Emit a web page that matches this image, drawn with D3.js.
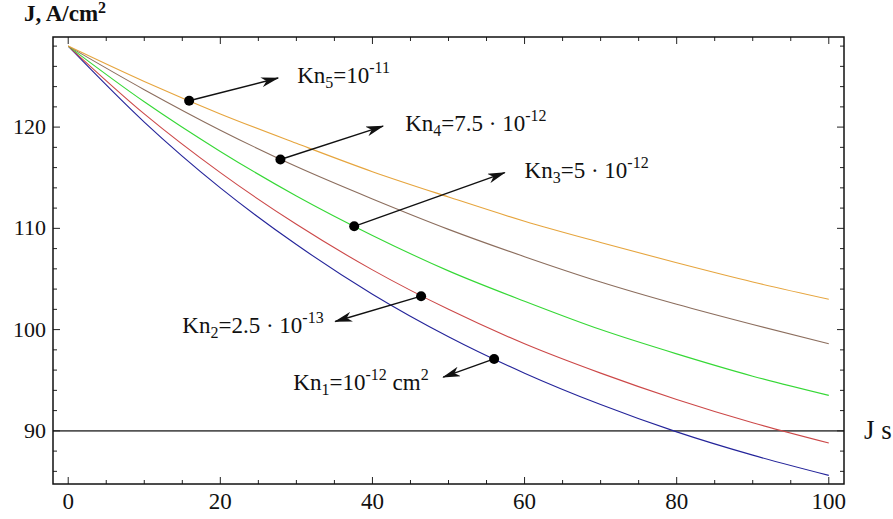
<!DOCTYPE html>
<html>
<head>
<meta charset="utf-8">
<script src="https://cdn.jsdelivr.net/npm/d3@7"></script>
<style>
  body { margin: 0; background: #fff; }
  text, tspan { font-family: "Liberation Serif", "Times New Roman", serif; }
</style>
</head>
<body>
<div id="chart"></div>
<script>
// x values of the samples
const xValues = [0, 10, 20, 30, 40, 50, 60, 70, 80, 90, 100];

// J values (A/cm2)
const kn1 = [128, 120.5, 114.0, 108.4, 103.5, 99.3, 95.7, 92.6, 89.9, 87.6, 85.6];
const kn2 = [128, 121.3, 115.5, 110.4, 105.9, 102.0, 98.6, 95.7, 93.1, 90.8, 88.8];
const kn3 = [128, 122.5, 117.6, 113.2, 109.3, 105.8, 102.8, 100.0, 97.6, 95.4, 93.5];
const kn4 = [128, 123.7, 119.7, 116.1, 112.9, 109.9, 107.2, 104.7, 102.5, 100.5, 98.6];
const kn5 = [128, 124.5, 121.3, 118.4, 115.6, 113.1, 110.7, 108.6, 106.6, 104.7, 103.0];

const seriesColors = ["#24249a", "#cc4848", "#36d836", "#8c6e5e", "#e6a53e"];

// saturation level
const jsLevel = 90;

// annotation: point on curve, arrow end, label position (all in data units)
const dotX = [56, 46.4, 37.6, 27.9, 15.9];
const dotY = [97.1, 103.3, 110.2, 116.8, 122.6];
const arrowX = [49.3, 35.1, 57.4, 41.4, 27.6];
const arrowY = [95.3, 100.8, 115.5, 120.1, 124.85];
const labelX = [29.6, 15.0, 60.0, 44.3, 30.1];
const labelY = [94.05, 99.7, 115.0, 119.6, 124.35];
const labelParts = [
  [["Kn", ""], ["1", "sub"], ["=10", ""], ["-12", "sup"], [" cm", ""], ["2", "sup"]],
  [["Kn", ""], ["2", "sub"], ["=2.5 \u00b7 10", ""], ["-13", "sup"]],
  [["Kn", ""], ["3", "sub"], ["=5 \u00b7 10", ""], ["-12", "sup"]],
  [["Kn", ""], ["4", "sub"], ["=7.5 \u00b7 10", ""], ["-12", "sup"]],
  [["Kn", ""], ["5", "sub"], ["=10", ""], ["-11", "sup"]]
];

const xTicks = [0, 20, 40, 60, 80, 100];
const yTicks = [90, 100, 110, 120];

const width = 893, height = 519;
const margin = { top: 37, right: 49, bottom: 35, left: 53 };
const serif = "Liberation Serif";

const svg = d3.select("#chart").append("svg")
  .attr("width", width)
  .attr("height", height);

const x = d3.scaleLinear().domain([-2, 102]).range([margin.left, width - margin.right]);
const y = d3.scaleLinear().domain([84.75, 128.9]).range([height - margin.bottom, margin.top]);

// arrow head
svg.append("defs").append("marker")
  .attr("id", "arrow")
  .attr("viewBox", "0 0 18 10")
  .attr("refX", 17)
  .attr("refY", 5)
  .attr("markerWidth", 18)
  .attr("markerHeight", 10)
  .attr("markerUnits", "userSpaceOnUse")
  .attr("orient", "auto")
  .append("path")
  .attr("d", "M0,0 L18,5 L0,10 L5,5 Z")
  .attr("fill", "#111");

// Js line
svg.append("line")
  .attr("x1", x.range()[0]).attr("x2", x.range()[1])
  .attr("y1", y(jsLevel)).attr("y2", y(jsLevel))
  .attr("stroke", "#555")
  .attr("stroke-width", 1.6);

// curves
const line = d3.line()
  .x((d, i) => x(xValues[i]))
  .y(d => y(d))
  .curve(d3.curveMonotoneX);

[kn1, kn2, kn3, kn4, kn5].forEach((s, i) => {
  svg.append("path")
    .datum(s)
    .attr("d", line)
    .attr("fill", "none")
    .attr("stroke", seriesColors[i])
    .attr("stroke-width", 1.1);
});

// frame and ticks
const x0 = x.range()[0], x1 = x.range()[1], y0 = y.range()[0], y1 = y.range()[1];
const xMinor = d3.range(0, 101, 5);
const yMinor = d3.range(86, 129, 2);
const ticks = svg.append("g").attr("stroke", "#222").attr("stroke-width", 1);
xMinor.forEach(v => {
  const len = v % 20 === 0 ? 7 : 4;
  ticks.append("line").attr("x1", x(v)).attr("x2", x(v)).attr("y1", y0).attr("y2", y0 - len);
  ticks.append("line").attr("x1", x(v)).attr("x2", x(v)).attr("y1", y1).attr("y2", y1 + len);
});
yMinor.forEach(v => {
  const len = v % 10 === 0 ? 7 : 4;
  ticks.append("line").attr("x1", x0).attr("x2", x0 + len).attr("y1", y(v)).attr("y2", y(v));
  ticks.append("line").attr("x1", x1).attr("x2", x1 - len).attr("y1", y(v)).attr("y2", y(v));
});

svg.append("rect")
  .attr("x", x0).attr("y", y1)
  .attr("width", x1 - x0).attr("height", y0 - y1)
  .attr("fill", "none")
  .attr("stroke", "#111")
  .attr("stroke-width", 1.5);

// tick labels
svg.selectAll(".xlab")
  .data(xTicks)
  .enter().append("text")
  .attr("class", "xlab")
  .attr("x", d => x(d))
  .attr("y", y0 + 25)
  .attr("text-anchor", "middle")
  .attr("font-family", serif)
  .attr("font-size", "23px")
  .attr("fill", "#111")
  .text(d => d);

svg.selectAll(".ylab")
  .data(yTicks)
  .enter().append("text")
  .attr("class", "ylab")
  .attr("x", x0 - 7)
  .attr("y", d => y(d) + 7)
  .attr("text-anchor", "end")
  .attr("font-family", serif)
  .attr("font-size", "22px")
  .attr("fill", "#111")
  .text(d => d);

// axis title
const title = svg.append("text")
  .attr("x", 24)
  .attr("y", 21)
  .attr("font-family", serif)
  .attr("font-size", "23px")
  .attr("font-weight", "bold")
  .attr("fill", "#111");
title.append("tspan").text("J, A/cm");
title.append("tspan").attr("font-size", "16px").attr("dy", -8).text("2");

svg.append("text")
  .attr("x", 864)
  .attr("y", 439)
  .attr("font-family", serif)
  .attr("font-size", "27px")
  .attr("fill", "#111")
  .text("J s");

// annotations
dotX.forEach((dx, i) => {
  svg.append("line")
    .attr("x1", x(dx)).attr("y1", y(dotY[i]))
    .attr("x2", x(arrowX[i])).attr("y2", y(arrowY[i]))
    .attr("stroke", "#111")
    .attr("stroke-width", 1.4)
    .attr("marker-end", "url(#arrow)");

  svg.append("circle")
    .attr("cx", x(dx))
    .attr("cy", y(dotY[i]))
    .attr("r", 5)
    .attr("fill", "#000");

  const t = svg.append("text")
    .attr("x", x(labelX[i]))
    .attr("y", y(labelY[i]))
    .attr("font-family", serif)
    .attr("font-size", "23px")
    .attr("fill", "#111");
  let shift = 0;
  labelParts[i].forEach(([txt, kind]) => {
    const target = kind === "sub" ? 5 : kind === "sup" ? -10 : 0;
    t.append("tspan")
      .attr("dy", target - shift)
      .attr("font-size", kind ? "16px" : "23px")
      .text(txt);
    shift = target;
  });
});
</script>
</body>
</html>
